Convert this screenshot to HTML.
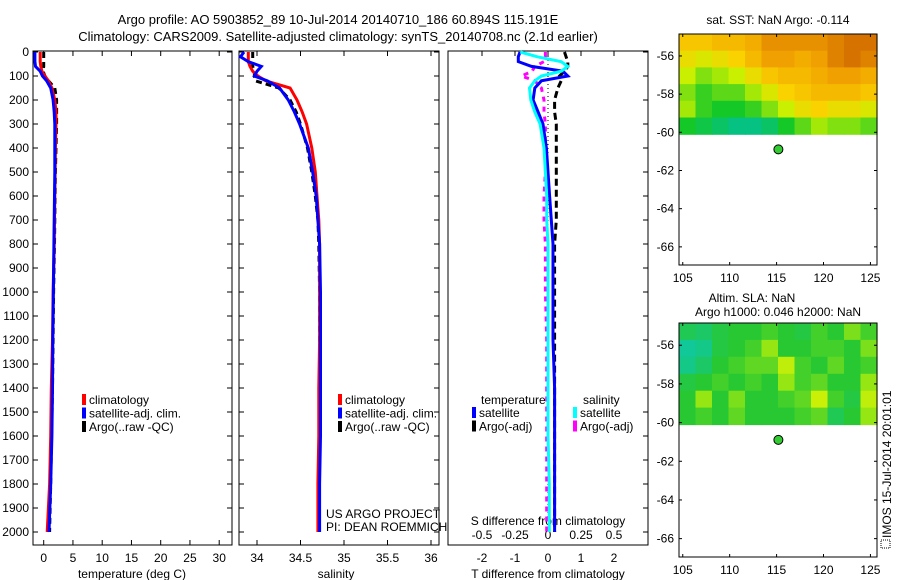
<!DOCTYPE html>
<html><head><meta charset="utf-8"><style>
html,body{margin:0;padding:0;background:#fff;}
svg{display:block;font-family:"Liberation Sans",sans-serif;}
</style></head><body>
<svg id="fig" width="900" height="580" viewBox="0 0 900 580" xmlns="http://www.w3.org/2000/svg"></svg>
<script>
// ---------- data ----------
const depth = [0,20,40,60,80,100,120,150,200,250,300,400,500,600,700,800,1000,1200,1400,1600,1800,2000];
const tClim = [-0.6,-0.6,-0.6,-0.5,-0.3,0.2,0.8,1.4,1.9,2.1,2.1,2.0,1.95,1.9,1.85,1.8,1.6,1.5,1.3,1.2,1.0,0.6];
const tSat  = [-1.5,-1.5,-1.5,-1.4,-0.6,-0.2,0.5,1.2,1.6,1.8,1.9,1.9,1.9,1.85,1.8,1.75,1.65,1.55,1.5,1.4,1.2,0.9];
const tArgo = [0,0,0,0,-0.1,0.2,0.8,1.9,2.2,2.2,2.2,2.1,2.0,1.95,1.9,1.85,1.7,1.6,1.5,1.35,1.2,1.0];
const sClim = [33.9,33.9,33.9,33.92,33.95,34.01,34.1,34.38,34.46,34.52,34.57,34.63,34.67,34.69,34.71,34.72,34.72,34.72,34.71,34.71,34.70,34.70];
const sSat  = [33.85,33.81,33.9,34.05,34.0,33.97,34.12,34.26,34.36,34.43,34.49,34.59,34.64,34.68,34.7,34.72,34.73,34.73,34.73,34.73,34.72,34.72];
const sArgo = [33.95,33.95,33.95,33.95,33.97,33.97,33.98,34.25,34.38,34.45,34.5,34.58,34.63,34.67,34.7,34.71,34.72,34.72,34.72,34.72,34.71,34.71];
const dTSat  = [-0.85,-0.9,-0.9,-0.5,0.45,0.6,-0.2,-0.4,-0.45,-0.3,-0.15,-0.05,0,0.05,0.1,0.15,0.15,0.15,0.2,0.2,0.2,0.2];
const dSSat  = [-0.21,-0.08,0.1,0.15,0.1,-0.05,-0.1,-0.14,-0.13,-0.1,-0.06,-0.03,-0.02,-0.01,-0.01,0,0,0,0,0,0.01,0.01];
const dTArgo = [0.5,0.55,0.6,0.6,0.5,0.35,0.4,0.3,0.2,0.2,0.25,0.25,0.25,0.25,0.25,0.2,0.2,0.2,0.2,0.2,0.2,0.2];
const dSArgo = [-0.02,-0.02,-0.03,-0.1,-0.12,-0.2,-0.1,-0.05,-0.03,-0.03,-0.02,-0.02,-0.02,-0.03,-0.03,-0.02,-0.02,-0.01,-0.01,-0.01,-0.01,-0.01];
const depthTicks = [0,100,200,300,400,500,600,700,800,900,1000,1100,1200,1300,1400,1500,1600,1700,1800,1900,2000];
const tTicks = [0,5,10,15,20,25,30];
const sTicks = [34,34.5,35,35.5,36];
const sTickLabels = ["34","34.5","35","35.5","36"];
const dTTicks = [-2,-1,0,1,2];
const dSTicks = [-0.5,-0.25,0,0.25,0.5];
const dSTickLabels = ["-0.5","-0.25","0","0.25","0.5"];
const latTicks = [-56,-58,-60,-62,-64,-66];
const lonTicks = [105,110,115,120,125];
const argoLon = 115.191, argoLat = -60.894;
const sstGrid = [
 [.65,.65,.7,.7,.75,.85,.85,.85,.85,.9,.95,.95],
 [.55,.5,.55,.6,.7,.8,.8,.75,.8,.9,.95,.9],
 [.45,.35,.4,.45,.55,.65,.7,.7,.75,.8,.8,.75],
 [.35,.25,.3,.3,.4,.5,.6,.65,.7,.7,.7,.65],
 [.4,.25,.2,.2,.25,.35,.45,.55,.6,.55,.55,.5],
 [.2,.15,.1,.05,.05,.1,.2,.3,.4,.35,.35,.3]];
const slaGrid = [
 [.4,.35,.45,.5,.5,.55,.5,.45,.55,.5,.65,.55],
 [.2,.25,.45,.5,.55,.7,.5,.5,.55,.55,.5,.65],
 [.25,.35,.5,.55,.6,.6,.85,.55,.5,.6,.5,.55],
 [.45,.5,.55,.5,.55,.5,.7,.55,.6,.5,.5,.7],
 [.5,.7,.5,.65,.5,.5,.55,.6,.9,.55,.45,.85],
 [.5,.55,.5,.6,.5,.5,.5,.55,.6,.4,.5,.7]];

// ---------- helpers ----------
const svg = document.getElementById('fig');
const NS = 'http://www.w3.org/2000/svg';
function el(tag, attrs, parent){const e=document.createElementNS(NS,tag);for(const k in attrs)e.setAttribute(k,attrs[k]);(parent||svg).appendChild(e);return e;}
function txt(x,y,s,size,anchor,parent){const t=el('text',{x:x,y:y,'font-size':size||12,'text-anchor':anchor||'start',fill:'#000'},parent);t.textContent=s;return t;}
const yD = d => 52 + d*0.24;
const xT = v => 43.7 + v*5.85;
const xS = v => 257 + (v-34)*87;
const xDT = v => 548 + v*33;
const xDS = v => 548 + v*132;
function profile(vals, xf, color, dash, name, g){
  const pts = vals.map((v,i)=>xf(v).toFixed(1)+','+yD(depth[i]).toFixed(1)).join(' ');
  const p = el('polyline',{points:pts,fill:'none',stroke:color,'stroke-width':3,'stroke-dasharray':dash||'none'},g);
  
  
}
function frame(x0,x1,y0,y1,g){el('rect',{x:x0,y:y0,width:x1-x0,height:y1-y0,fill:'none',stroke:'#000','stroke-width':1},g);}

// titles
const title = el('g',{});


txt(338,24,'Argo profile: AO 5903852_89 10-Jul-2014 20140710_186 60.894S 115.191E',13,'middle',title);
txt(338,41,'Climatology: CARS2009. Satellite-adjusted climatology: synTS_20140708.nc (2.1d earlier)',13,'middle',title);

// ---------- panel 1: temperature ----------
const p1 = el('g',{});


frame(33,232,51,545,p1);
depthTicks.forEach(d=>{const y=yD(d);el('line',{x1:33,y1:y,x2:38,y2:y,stroke:'#000'},p1);el('line',{x1:227,y1:y,x2:232,y2:y,stroke:'#000'},p1);txt(29,y+4,String(d),12,'end',p1);});
tTicks.forEach(v=>{const x=xT(v);el('line',{x1:x,y1:545,x2:x,y2:540,stroke:'#000'},p1);el('line',{x1:x,y1:51,x2:x,y2:56,stroke:'#000'},p1);txt(x,562,String(v),12,'middle',p1);});
txt(132,578,'temperature (deg C)',12,'middle',p1);
profile(tArgo,xT,'#000','6 4','temp-argo-line',p1);
profile(tClim,xT,'#f00',null,'temp-climatology-line',p1);
profile(tSat,xT,'#00f',null,'temp-satellite-line',p1);
function legend(x,y,items,g,name){
  const lg=el('g',{},g);
  
  
  items.forEach((it,i)=>{const yy=y+i*13.5;el('rect',{x:x,y:yy-10,width:4,height:11,fill:it[1]},lg);txt(x+7,yy,it[0],12,'start',lg);});
}
legend(82,404,[['climatology','#f00'],['satellite-adj. clim.','#00f'],['Argo(..raw -QC)','#000']],p1,'temperature-legend');

// ---------- panel 2: salinity ----------
const p2 = el('g',{});


frame(239,439,51,545,p2);
depthTicks.forEach(d=>{const y=yD(d);el('line',{x1:239,y1:y,x2:244,y2:y,stroke:'#000'},p2);el('line',{x1:434,y1:y,x2:439,y2:y,stroke:'#000'},p2);});
sTicks.forEach((v,i)=>{const x=xS(v);el('line',{x1:x,y1:545,x2:x,y2:540,stroke:'#000'},p2);el('line',{x1:x,y1:51,x2:x,y2:56,stroke:'#000'},p2);txt(x,562,sTickLabels[i],12,'middle',p2);});
txt(336,578,'salinity',12,'middle',p2);
profile(sArgo,xS,'#000','6 4','salinity-argo-line',p2);
profile(sClim,xS,'#f00',null,'salinity-climatology-line',p2);
profile(sSat,xS,'#00f',null,'salinity-satellite-line',p2);
legend(338,404,[['climatology','#f00'],['satellite-adj. clim.','#00f'],['Argo(..raw -QC)','#000']],p2,'salinity-legend');
txt(326,518,'US ARGO PROJECT',12,'start',p2);
txt(326,531,'PI: DEAN ROEMMICH',12,'start',p2);

// ---------- panel 3: differences ----------
const p3 = el('g',{});


frame(448,648,51,545,p3);
depthTicks.forEach(d=>{const y=yD(d);el('line',{x1:643,y1:y,x2:648,y2:y,stroke:'#000'},p3);});
dTTicks.forEach(v=>{const x=xDT(v);el('line',{x1:x,y1:51,x2:x,y2:56,stroke:'#000'},p3);txt(x,562,String(v),12,'middle',p3);});
dSTicks.forEach((v,i)=>{txt(xDS(v),539,dSTickLabels[i],12,'middle',p3);});
txt(548,525,'S difference from climatology',12,'middle',p3);
txt(548,578,'T difference from climatology',12,'middle',p3);
el('line',{x1:548,y1:52,x2:548,y2:530,stroke:'#000','stroke-dasharray':'1 3'},p3);
profile(dSArgo,xDS,'#f0f','5 5','salinity-diff-argo-line',p3);
profile(dTArgo,xDT,'#000','7 4','temp-diff-argo-line',p3);
profile(dTSat,xDT,'#00f',null,'temp-diff-satellite-line',p3);
profile(dSSat,xDS,'#0ff',null,'salinity-diff-satellite-line',p3);
txt(481,404,'temperature',12,'start',p3);
legend(472,417,[['satellite','#00f'],['Argo(-adj)','#000']],p3,'temp-diff-legend');
txt(583,404,'salinity',12,'start',p3);
legend(573,417,[['satellite','#0ff'],['Argo(-adj)','#f0f']],p3,'salinity-diff-legend');

// ---------- maps ----------
function mapPanel(top, bottom, grid, colorFn, name){
  const g = el('g',{});
  
  
  const x0=679,x1=877;
  const lon0=104.6, lon1=125.7;
  const latTop = -54.85, pxPerDeg = (bottom-top)/( -54.85 - (-66.95));
  const xL = v => x0 + (v-lon0)*(x1-x0)/(lon1-lon0);
  const yL = v => top + (latTop - v)*pxPerDeg;
  const yCut = yL(-60.1);
  const rows=grid.length, cols=grid[0].length;
  const cw=(x1-x0)/cols, ch=(yCut-top)/rows;
  grid.forEach((row,r)=>row.forEach((v,c)=>{
    const cell=el('rect',{x:(x0+c*cw).toFixed(1),y:(top+r*ch).toFixed(1),width:(cw+0.6).toFixed(1),height:(ch+0.6).toFixed(1),fill:colorFn(v)},g);
    
    
  }));
  frame(x0,x1,top,bottom,g);
  latTicks.forEach(v=>{const y=yL(v);el('line',{x1:x0,y1:y,x2:x0+3,y2:y,stroke:'#000'},g);el('line',{x1:x1-3,y1:y,x2:x1,y2:y,stroke:'#000'},g);txt(674,y+4,String(v),12,'end',g);});
  lonTicks.forEach(v=>{const x=xL(v);el('line',{x1:x,y1:bottom,x2:x,y2:bottom-3,stroke:'#000'},g);el('line',{x1:x,y1:top,x2:x,y2:top+3,stroke:'#000'},g);txt(x,bottom+17,String(v),12,'middle',g);});
  const dot=el('circle',{cx:xL(argoLon),cy:yL(argoLat),r:4.5,fill:'#3c3',stroke:'#000','stroke-width':1},g);
  
  
  return g;
}
function lerp(a,b,t){return a.map((v,i)=>Math.round(v+(b[i]-v)*t));}
function ramp(stops,v){for(let i=0;i<stops.length-1;i++){if(v<=stops[i+1][0]){const t=(v-stops[i][0])/(stops[i+1][0]-stops[i][0]);const c=lerp(stops[i][1],stops[i+1][1],t);return 'rgb('+c.join(',')+')';}}const c=stops[stops.length-1][1];return 'rgb('+c.join(',')+')';}
const sstColor = v => ramp([[0,[0,190,160]],[0.2,[20,200,40]],[0.45,[200,240,0]],[0.6,[250,210,0]],[0.8,[240,160,0]],[1,[205,100,0]]],v);
const slaColor = v => ramp([[0,[0,200,220]],[0.5,[40,200,50]],[0.7,[150,230,20]],[1,[230,245,0]]],v);
mapPanel(34,265,sstGrid,sstColor,'sst-map');
txt(778,24,'sat. SST: NaN Argo: -0.114',12,'middle');
mapPanel(323,557,slaGrid,slaColor,'sla-map');
txt(752,302,'Altim. SLA: NaN',12,'middle');
txt(778,316,'Argo h1000: 0.046 h2000: NaN',12,'middle');

const stamp = el('g',{transform:'translate(891,548) rotate(-90)'});


el('rect',{x:0,y:-10,width:8,height:9,fill:'none',stroke:'#000','stroke-dasharray':'1 1'},stamp);
txt(10,0,'IMOS 15-Jul-2014 20:01:01',12,'start',stamp);
</script>
</body></html>
